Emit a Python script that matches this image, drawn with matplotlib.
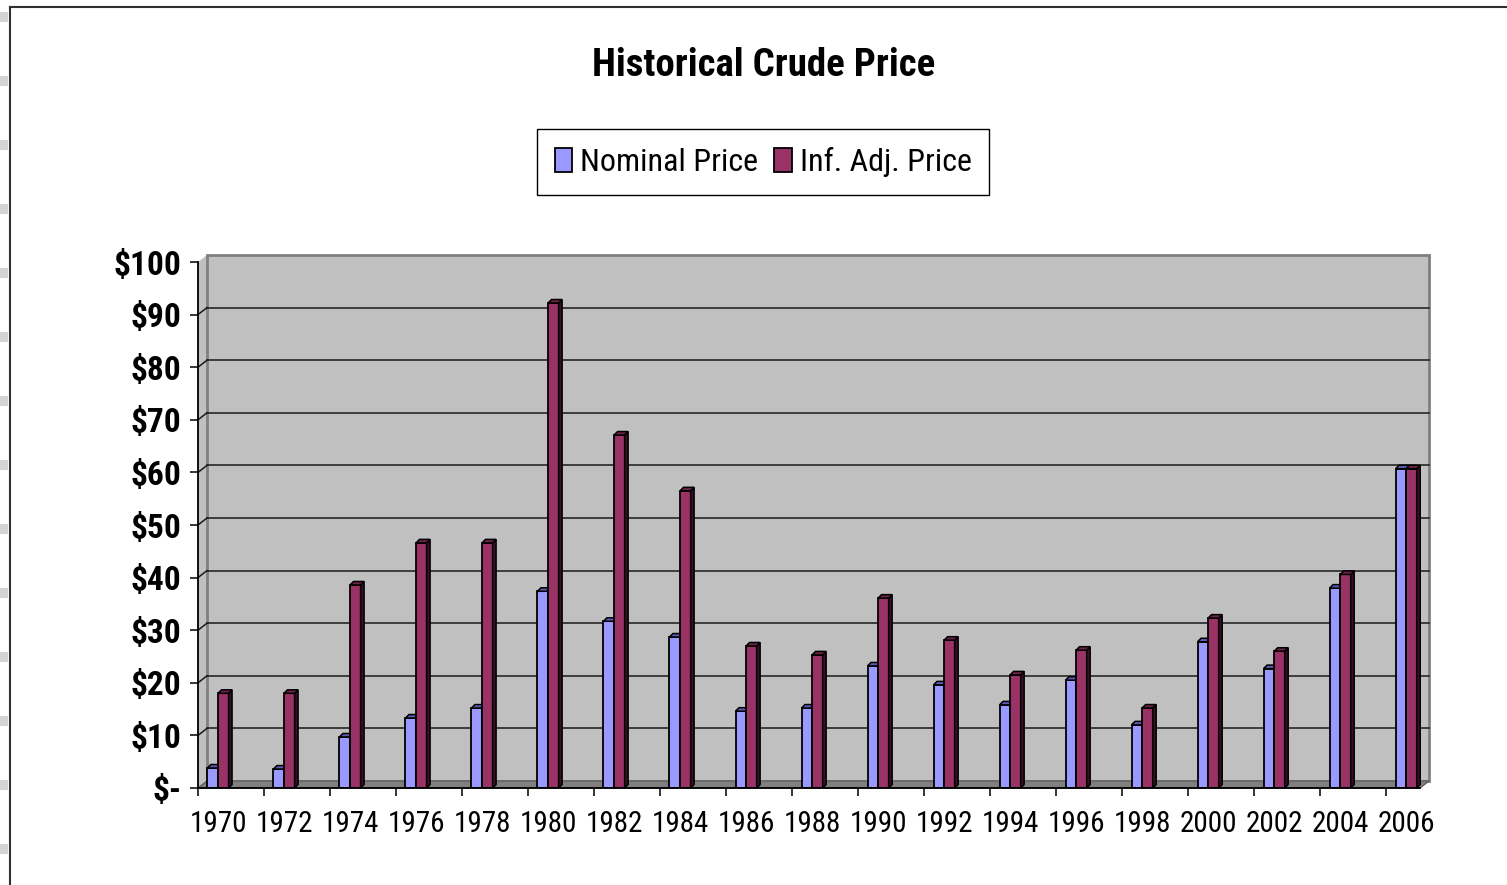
import matplotlib.pyplot as plt
import numpy as np
from matplotlib.patches import Polygon, Rectangle
from matplotlib.lines import Line2D

# data
years = [str(y) for y in range(1970, 2007, 2)]
nominal = [3.8, 3.6, 9.7, 13.3, 15.2, 37.4, 31.7, 28.7, 14.6, 15.2,
           23.2, 19.6, 15.8, 20.5, 12.0, 27.8, 22.7, 38.0, 60.7]
inflation_adj = [18.0, 18.0, 38.6, 46.6, 46.6, 92.2, 67.1, 56.5, 27.0, 25.3,
                 36.1, 28.1, 21.5, 26.2, 15.2, 32.3, 26.0, 40.6, 60.7]
y_ticks = [0, 10, 20, 30, 40, 50, 60, 70, 80, 90, 100]
y_labels = ['$-', '$10', '$20', '$30', '$40', '$50', '$60', '$70', '$80', '$90', '$100']

plt.rcParams['font.family'] = ['Liberation Sans Narrow', 'Roboto Condensed', 'Liberation Sans', 'DejaVu Sans']

W, H = 1507, 885
fig = plt.figure(figsize=(W / 100, H / 100), dpi=100)


def fx(px):
    return px / W


def fy(py):
    return 1 - py / H


# front plane of the pseudo-3D plot
left, right, top, bottom = 198, 1420, 262, 788
ax = fig.add_axes([fx(left), fy(bottom), fx(right) - fx(left), fy(top) - fy(bottom)])
xmin, xmax = -0.303, 18.21
ax.set_xlim(xmin, xmax)
ax.set_ylim(0, 100)
ax.patch.set_visible(False)

ux = (xmax - xmin) / (right - left)   # data units per pixel
uy = 100 / (bottom - top)
wdx, wdy = 9 * ux, 7 * uy            # wall depth
bdx, bdy = 3.5 * ux, 3.5 * uy        # bar depth

# walls and floor
ax.add_patch(Polygon([(xmin, 0), (xmin + wdx, wdy), (xmin + wdx, 100 + wdy), (xmin, 100)],
                     closed=True, facecolor='#C0C0C0', edgecolor='none', zorder=0, clip_on=False))
ax.add_patch(Rectangle((xmin + wdx, wdy), xmax - xmin, 100, facecolor='#C0C0C0',
                       edgecolor='#808080', lw=2, zorder=0, clip_on=False))
ax.add_patch(Polygon([(xmin, 0), (xmax, 0), (xmax + wdx, wdy), (xmin + wdx, wdy)],
                     closed=True, facecolor='#808080', edgecolor='#606060', lw=1, zorder=1, clip_on=False))
for v in y_ticks[1:-1]:
    ax.plot([xmin + wdx, xmax + wdx], [v + wdy, v + wdy], color='#1a1a1a', lw=1.1, zorder=1, clip_on=False)
    ax.plot([xmin, xmin + wdx], [v, v + wdy], color='#1a1a1a', lw=1.1, zorder=1, clip_on=False)


def add_depth(bars, top_color, side_color):
    for r in bars:
        x0 = r.get_x()
        x1 = x0 + r.get_width()
        h = r.get_height()
        ax.add_patch(Polygon([(x1, 0), (x1 + bdx, bdy), (x1 + bdx, h + bdy), (x1, h)], closed=True,
                             facecolor=side_color, edgecolor='black', lw=1.1, zorder=r.get_zorder(),
                             clip_on=False))
        ax.add_patch(Polygon([(x0, h), (x1, h), (x1 + bdx, h + bdy), (x0 + bdx, h + bdy)], closed=True,
                             facecolor=top_color, edgecolor='black', lw=1.1, zorder=r.get_zorder(),
                             clip_on=False))


x = np.arange(len(years))
w = 0.16
b1 = ax.bar(x - w / 2, nominal, w, color='#9999FF', edgecolor='black', lw=1.3,
            label='Nominal Price', zorder=3)
add_depth(b1, '#5A5AB0', '#3C3C8C')
b2 = ax.bar(x + w / 2, inflation_adj, w, color='#993366', edgecolor='black', lw=1.3,
            label='Inf. Adj. Price', zorder=4)
add_depth(b2, '#6A2246', '#3A1026')

for s in ['top', 'right']:
    ax.spines[s].set_visible(False)
for s in ['left', 'bottom']:
    ax.spines[s].set_linewidth(1.3)
    ax.spines[s].set_zorder(5)

ax.set_xticks(xmin + np.arange(len(years)))
ax.set_xticklabels([])
ax.set_xticks(x, minor=True)
ax.set_xticklabels(years, minor=True, fontsize=21)
ax.tick_params(axis='x', which='major', length=6, width=1.1)
ax.tick_params(axis='x', which='minor', length=0, pad=15.5)
ax.set_yticks(y_ticks)
ax.set_yticklabels(y_labels, fontsize=24, fontweight='bold')
ax.tick_params(axis='y', length=6, width=1.1, pad=6)

fig.text(fx(764), fy(66), 'Historical Crude Price', ha='center', va='center',
         fontsize=28, fontweight='bold')

leg = fig.legend(handles=[b1, b2], loc='center', bbox_to_anchor=(fx(763), fy(162)), ncol=2,
                 fontsize=23, frameon=True, fancybox=False, edgecolor='black', framealpha=1,
                 handlelength=0.55, handleheight=0.75, handletextpad=0.25, columnspacing=0.5,
                 borderpad=0.55, borderaxespad=0)
leg.get_frame().set_linewidth(1.0)

# sheet frame and row markers at the left edge
fig.add_artist(Line2D([fx(10), fx(10)], [fy(7), 0], color='#303030', lw=1.5))
fig.add_artist(Line2D([fx(10), 1], [fy(7), fy(7)], color='#303030', lw=1.5))
for yy in range(12, 885, 64):
    fig.add_artist(Rectangle((0, fy(yy + 10)), fx(8), 10 / H, facecolor='#D4D4D4',
                             edgecolor='none'))

fig.savefig('out.png', dpi=100)
